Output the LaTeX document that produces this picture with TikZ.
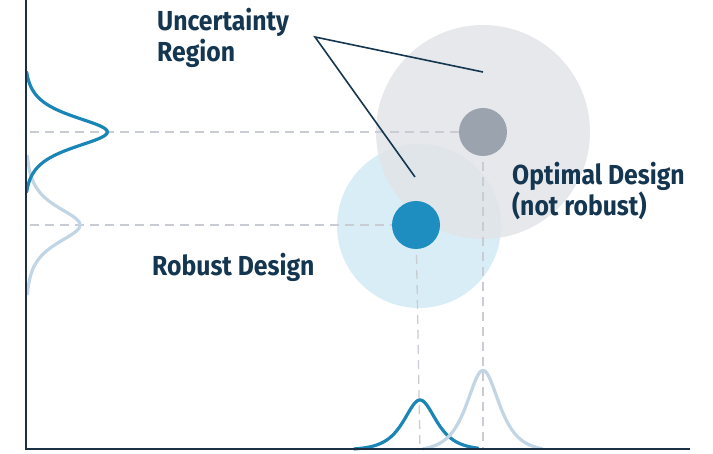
\documentclass[tikz,border=0pt]{standalone}
\usepackage{fontspec}
\setmainfont{Fira Sans}[FakeStretch=0.9]
\definecolor{navy}{HTML}{143650}
\definecolor{axiscol}{HTML}{1B3044}
\definecolor{lightblue}{HTML}{D9EDF6}
\definecolor{bigGrey}{HTML}{E2E4E8}
\definecolor{dotGrey}{HTML}{9AA3AE}
\definecolor{dotBlue}{HTML}{1E8DC0}
\definecolor{curveDark}{HTML}{1A86B5}
\definecolor{curveLight}{HTML}{C2D5E4}
\definecolor{dashCol}{HTML}{C9CDD3}
\begin{document}
\begin{tikzpicture}[x=1pt,y=-1pt,
  region/.style={circle, draw=none, inner sep=0pt},
  dot/.style={circle, draw=none, inner sep=0pt, minimum size=48pt},
  guide/.style={draw=dashCol, line width=1.3pt, dash pattern=on 9pt off 6pt},
  curve/.style={line width=3.2pt, line cap=round},
  axisline/.style={draw=axiscol, line width=2pt},
  leader/.style={draw=navy, line width=1.6pt},
  label/.style={font=\fontsize{27.5}{31}\selectfont\bfseries, text=navy, align=left, inner sep=0pt, anchor=base west}
]
\useasboundingbox (0,0) rectangle (713,454);
% uncertainty regions
\node[region, fill=lightblue, minimum size=164pt] (rblue) at (419,226) {};
\node[region, fill=bigGrey, fill opacity=0.85, minimum size=214pt] (rgrey) at (483,132) {};
% axis anchor coordinates
\coordinate (yA1) at (30,132);
\coordinate (yA2) at (30,225);
\coordinate (xA1) at (420,449);
\coordinate (xA2) at (483,449);
% guides
\draw[guide] (yA1) -- (483,132);
\draw[guide] (yA2) -- (416,225);
\draw[guide] (416,225) -- (xA1);
\draw[guide] (483,132) -- (xA2);
% design points
\node[dot, fill=dotGrey] (opt) at (483,132) {};
\node[dot, fill=dotBlue] (rob) at (416,225) {};
% marginal distributions (sech profiles)
\draw[curve, draw=curveLight, domain=-69:69, samples=140]
  plot ({26+54*2/(exp(\x/16)+exp(-\x/16))}, {225+\x});
\draw[curve, draw=curveDark, domain=-60:60, samples=140]
  plot ({26+83*(2/(exp(\x/14)+exp(-\x/14))-0.02)}, {132+\x});
\draw[curve, draw=curveDark, domain=-66:58, samples=140]
  plot ({420+\x}, {449-50*(2/(exp(\x/14.5)+exp(-\x/14.5))-0.02)});
\draw[curve, draw=curveLight, domain=-60:59, samples=140]
  plot ({483+\x}, {449-81*(2/(exp(\x/14.5)+exp(-\x/14.5))-0.03)});
% axes
\coordinate (origin) at (26,449);
\coordinate (ytop) at (26,0);
\coordinate (xend) at (690,449);
\draw[axisline] (ytop) -- (origin) -- (xend);
% leader lines
\coordinate (vtx) at (315,37);
\coordinate (pGrey) at (483,72);
\coordinate (pBlue) at (415,177);
\draw[leader] (pGrey) -- (vtx) -- (pBlue);
% labels
\node[label] (lunc) at (157,61.5) {Uncertainty\\Region};
\node[label] (lopt) at (512,216) {Optimal Design\\(not robust)};
\node[label] (lrob) at (152,276) {Robust Design};
\end{tikzpicture}
\end{document}
